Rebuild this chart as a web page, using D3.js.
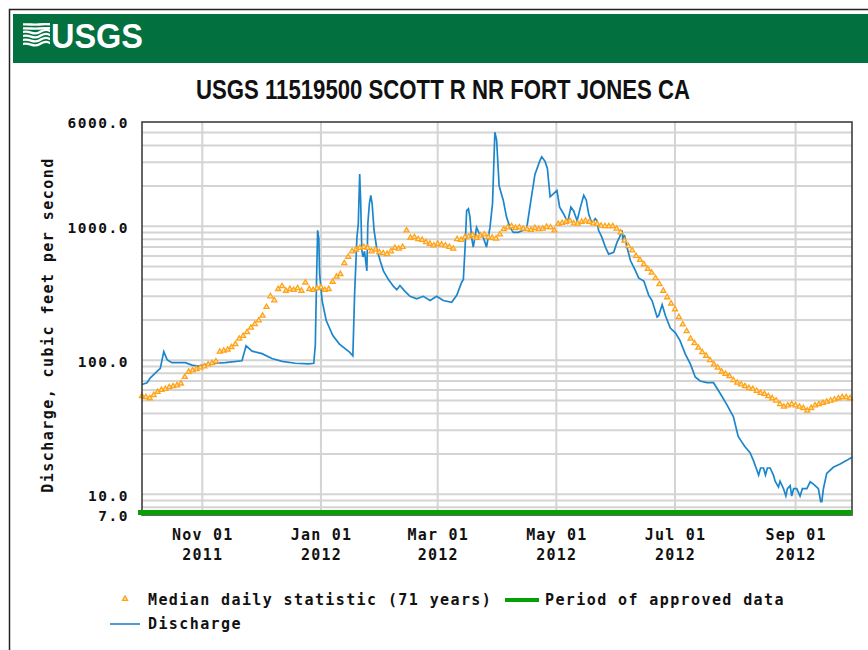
<!DOCTYPE html>
<html>
<head>
<meta charset="utf-8">
<script src="https://cdn.jsdelivr.net/npm/d3@7"></script>
<style>
  body { margin: 0; background: #fff; }
  text { font-family: "DejaVu Sans Mono", monospace; }
</style>
</head>
<body>
<svg id="chart" width="868" height="650"></svg>
<script>
// water year 2012
const startDate = "2011-10-01";
const endDate = "2012-09-30";

// discharge, cfs (day = days since Oct 01 2011)
const dischargeDay = [0, 2.6, 4.3, 6.8, 9.4, 11.2, 12.9, 15.4, 22.3, 25.7, 29.8, 32.4, 37.7, 42.8, 51.4,
  53.5, 56.6, 61.7, 66.8, 72.0, 78.8, 85.7, 88.3, 89.1, 89.8, 90.3, 90.9, 91.3, 92.6, 94.7, 98.1,
  101.5, 106.7, 108.4, 109.3, 110.5, 111.2, 111.9, 112.4, 113.0, 113.6, 114.4, 115.6, 116.1, 116.9,
  117.6, 118.3, 119.3, 120.7, 122.4, 124.1, 126.7, 129.2, 131.0, 132.6, 135.2, 137.8, 141.2, 144.6,
  148.1, 151.5, 154.9, 159.2, 161.8, 164.4, 165.2, 166.1, 166.9, 167.8, 168.6, 169.4, 170.3, 172.0,
  173.7, 175.4, 177.1, 178.9, 180.2, 181.4, 182.3, 183.6, 185.7, 187.4, 189.2, 190.9, 193.4, 196.0,
  197.7, 199.4, 202.0, 204.6, 205.5, 207.2, 208.4, 209.8, 211.6, 213.3, 214.7, 216.7, 218.8, 220.5,
  221.9, 223.7, 225.4, 227.1, 228.4, 229.6, 231.3, 233.0, 233.9, 234.7, 236.4, 238.2, 239.9, 242.5,
  244.2, 245.5, 246.8, 247.3, 248.0, 249.3, 251.1, 253.7, 255.4, 258.0, 260.5, 262.2, 264.8, 265.6,
  267.4, 269.1, 271.6, 274.2, 276.6, 279.3, 281.9, 284.4, 286.9, 290.4, 293.8, 297.1, 300.5, 304.0,
  306.5, 308.3, 310.0, 312.6, 314.3, 316.0, 317.0, 318.0, 319.5, 320.5, 321.5, 322.9, 324.6, 325.5,
  327.2, 328.0, 329.8, 331.0, 331.8, 333.2, 334.0, 335.0, 336.6, 338.3, 339.5, 341.8, 343.5, 345.2,
  347.7, 348.9, 349.5, 350.3, 352.0, 355.4, 358.9, 362.3, 365];
const dischargeCfs = [66, 68, 74, 80, 87, 116, 101, 96, 96, 92, 90, 93, 95, 96, 99,
  128, 117, 112, 103, 98, 95, 94, 95, 130, 440, 933, 808, 442, 279, 198, 153,
  132, 115, 108, 313, 831, 1047, 2450, 1565, 660, 590, 650, 465, 1047, 1478,
  1700, 1478, 933, 680, 555, 465, 400, 357, 336, 361, 327, 300, 287, 300,
  279, 300, 279, 271, 305, 384, 400, 700, 1310, 1350, 1170, 830, 700, 980,
  860, 830, 700, 980, 1478, 5030, 4400, 2000, 1565, 1170, 980, 900, 900, 933,
  950, 1390, 2440, 3100, 3300, 3050, 2700, 1660, 1750, 1850, 1390, 1240, 1070, 1390,
  1300, 1100, 1390, 1700, 1565, 1240, 1047, 1140, 1100, 933, 830, 700, 620, 640,
  760, 830, 933, 760, 860, 700, 555, 465, 410, 390, 305, 279, 210, 215,
  260, 215, 174, 160, 140, 111, 94, 75, 70, 68, 68, 57, 47, 38,
  27, 24.6, 22.6, 20.4, 17.9, 15.3, 13.9, 15.7, 15.7, 13.9, 15.7, 15.7, 13.9, 12.5,
  11.3, 12.5, 11.0, 9.7, 11, 11.6, 9.7, 11, 11, 9.7, 11, 11, 12.4, 11.9,
  11.0, 8.8, 8.8, 11, 14.3, 15.9, 16.8, 17.9, 18.9];

// median daily statistic (71 years), one reading every 2 days from Oct 01
const medianStep = 2;
const medianCfs = [54, 53, 52, 55, 58, 60, 61, 63, 64, 65, 67, 75, 82, 84, 86, 88, 90, 93, 95, 98,
  116, 118, 120, 125, 132, 145, 152, 162, 175, 186, 198, 215, 250, 300, 280, 340, 357, 330, 340, 335,
  345, 330, 380, 340, 335, 345, 350, 335, 340, 385, 420, 440, 530, 590, 650, 670, 690, 700, 690, 650,
  670, 640, 630, 620, 650, 690, 680, 700, 930, 820, 830, 800, 790, 760, 740, 720, 740, 730, 720, 700,
  680, 800, 790, 830, 840, 860, 820, 850, 870, 830, 820, 810, 870, 950, 980, 1000, 970, 980, 960, 950,
  940, 970, 950, 960, 990, 980, 930, 1040, 1060, 1080, 1100, 1050, 1047, 1080, 1100, 1080, 1050, 1040, 1010, 1000,
  1000, 1000, 960, 900, 780, 710, 660, 600, 560, 520, 480, 450, 410, 370, 330, 295, 265, 240, 210, 185,
  165, 145, 134, 124, 115, 108, 100, 93, 88, 82, 79, 76, 71, 68, 66, 64, 62, 61, 59, 57,
  56, 54, 52, 50, 47, 45, 46, 47, 46, 45, 44, 42, 44, 46, 47, 48, 49, 50, 51, 52,
  53, 53, 52];

const xTickDates = ["2011-11-01", "2012-01-01", "2012-03-01", "2012-05-01", "2012-07-01", "2012-09-01"];
const yTickValues = [7, 10, 100, 1000, 6000];

const parse = d3.utcParse("%Y-%m-%d");
const t0 = parse(startDate);
const dayToDate = d => new Date(t0.getTime() + d * 86400000);

const svg = d3.select("#chart");
const plotLeft = 142, plotRight = 852, plotTop = 122, plotBottom = 515;

const x = d3.scaleUtc().domain([t0, parse(endDate)]).range([plotLeft, plotRight]);
const y = d3.scaleLog().domain([7, 6000]).range([plotBottom, plotTop]);

// outer border + header
svg.append("path").attr("d", "M9.5,650V9.5H868").attr("fill", "none")
  .attr("stroke", "#222").attr("stroke-width", 1.5);
svg.append("rect").attr("x", 13).attr("y", 14).attr("width", 855).attr("height", 49).attr("fill", "#03703f");

const logo = svg.append("g").attr("transform", "translate(23,23)");
logo.append("clipPath").attr("id", "lc").append("rect").attr("width", 27).attr("height", 24);
const waves = logo.append("g").attr("clip-path", "url(#lc)");
[1.5, 5.5, 9.5, 13.5, 17.5, 21.5].forEach((w, i) => {
  const a = i < 2 ? 0.6 : 3.5;
  waves.append("path")
    .attr("d", `M-2,${w} C6,${w - a} 10,${w + a} 16,${w} S24,${w - a} 30,${w}`)
    .attr("fill", "none").attr("stroke", "#fff").attr("stroke-width", 2.4);
});
svg.append("text").attr("x", 51).attr("y", 48)
  .style("font-family", "'Liberation Sans Narrow','Liberation Sans',Arial,sans-serif")
  .style("font-weight", "bold").style("font-size", "35px")
  .attr("textLength", 92).attr("lengthAdjust", "spacingAndGlyphs")
  .attr("fill", "#fff").text("USGS");

// title
svg.append("text").attr("x", 196).attr("y", 99)
  .style("font-family", "'Liberation Sans Narrow','Liberation Sans',Arial,sans-serif")
  .style("font-size", "28px").style("font-weight", "bold")
  .attr("textLength", 494).attr("lengthAdjust", "spacingAndGlyphs")
  .attr("fill", "#111").text("USGS 11519500 SCOTT R NR FORT JONES CA");

// grid
const gridVals = [];
[1, 10, 100, 1000].forEach(dec => d3.range(1, 10).forEach(k => {
  const v = k * dec;
  if (v > 7 && v < 6000) gridVals.push(v);
}));
const grid = svg.append("g").attr("stroke", "#d4d4d4").attr("stroke-width", 2);
grid.selectAll("line.h").data(gridVals).enter().append("line")
  .attr("x1", plotLeft).attr("x2", plotRight).attr("y1", d => y(d)).attr("y2", d => y(d));
grid.selectAll("line.v").data(xTickDates).enter().append("line")
  .attr("x1", d => x(parse(d))).attr("x2", d => x(parse(d))).attr("y1", plotTop).attr("y2", plotBottom);

// discharge line
const dischargePts = dischargeDay.map((d, i) => ({ date: dayToDate(d), v: dischargeCfs[i] }));
svg.append("path").datum(dischargePts)
  .attr("fill", "none").attr("stroke", "#1c86cc").attr("stroke-width", 1.7)
  .attr("d", d3.line().x(d => x(d.date)).y(d => y(d.v)));

// median markers
const tri = d3.symbol().type(d3.symbolTriangle).size(11);
svg.append("g").selectAll("path").data(medianCfs).enter().append("path")
  .attr("transform", (v, i) => `translate(${x(dayToDate(i * medianStep))},${y(v)})`)
  .attr("d", tri).attr("fill", "#ffe7b8").attr("stroke", "#ffa31a").attr("stroke-width", 1.3);

// frame
svg.append("rect").attr("x", plotLeft).attr("y", plotTop)
  .attr("width", plotRight - plotLeft).attr("height", plotBottom - plotTop)
  .attr("fill", "none").attr("stroke", "#333").attr("stroke-width", 1.5);

// approved data period bar
svg.append("rect").attr("x", x(t0) - 4).attr("y", plotBottom - 5)
  .attr("width", x(parse(endDate)) - x(t0) + 4).attr("height", 5).attr("fill", "#05a005");

// y axis
const yAxis = svg.append("g").attr("transform", `translate(${plotLeft},0)`)
  .call(d3.axisLeft(y).tickValues(yTickValues).tickFormat(d3.format(".1f")).tickSize(0).tickPadding(13));
yAxis.select(".domain").remove();
yAxis.selectAll("text").style("font-family", "'DejaVu Sans Mono',monospace")
  .style("font-size", "14.5px").style("font-weight", "bold").style("letter-spacing", "1.5px")
  .attr("fill", "#111").attr("dy", "0.4em");

svg.append("text")
  .attr("transform", "translate(53,325) rotate(-90)")
  .attr("text-anchor", "middle")
  .style("font-size", "15px").style("font-weight", "bold").style("letter-spacing", "1.45px")
  .attr("fill", "#111").text("Discharge, cubic feet per second");

// x axis
const fmtMonth = d3.utcFormat("%b %d"), fmtYear = d3.utcFormat("%Y");
const xAxis = svg.append("g").attr("transform", `translate(0,${plotBottom})`)
  .call(d3.axisBottom(x).tickValues(xTickDates.map(parse)).tickSize(0).tickFormat(""));
xAxis.select(".domain").remove();
xAxis.selectAll(".tick").each(function (d) {
  const t = d3.select(this).append("text").attr("fill", "#111").attr("text-anchor", "middle")
    .style("font-size", "15px").style("font-weight", "bold").style("letter-spacing", "1.2px");
  t.append("tspan").attr("x", 0).attr("y", 25).text(fmtMonth(d));
  t.append("tspan").attr("x", 0).attr("y", 45).text(fmtYear(d));
});

// legend
const legend = svg.append("g").style("font-size", "15px").style("letter-spacing", "1.4px")
  .style("font-weight", "bold");
legend.append("path").attr("transform", "translate(125,599)").attr("d", tri)
  .attr("fill", "#ffe7b8").attr("stroke", "#ffa31a").attr("stroke-width", 1.3);
legend.append("text").attr("x", 148).attr("y", 605).attr("fill", "#111").text("Median daily statistic (71 years)");
legend.append("line").attr("x1", 505).attr("x2", 539).attr("y1", 600).attr("y2", 600)
  .attr("stroke", "#05a005").attr("stroke-width", 4);
legend.append("text").attr("x", 545).attr("y", 605).attr("fill", "#111").text("Period of approved data");
legend.append("line").attr("x1", 110).attr("x2", 140).attr("y1", 624).attr("y2", 624)
  .attr("stroke", "#1c86cc").attr("stroke-width", 1.6);
legend.append("text").attr("x", 148).attr("y", 629).attr("fill", "#111").text("Discharge");
</script>
</body>
</html>
